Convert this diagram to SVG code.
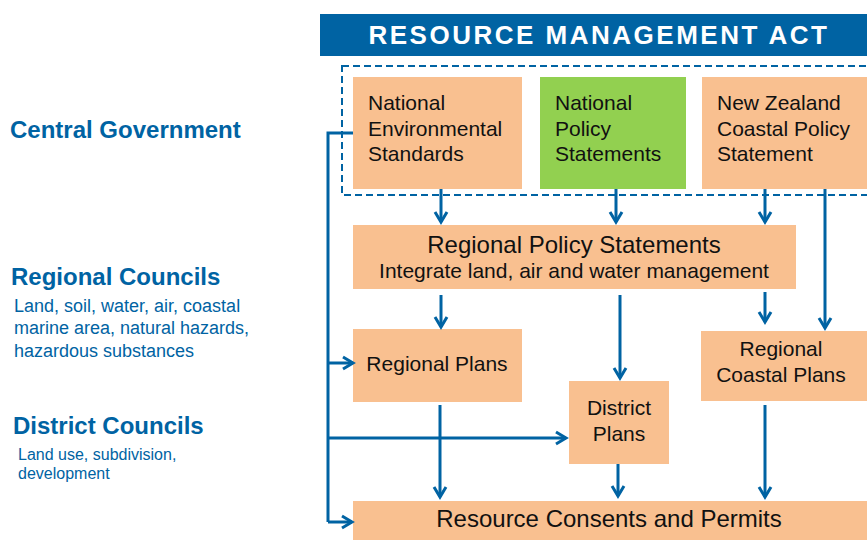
<svg xmlns="http://www.w3.org/2000/svg" width="867" height="540" viewBox="0 0 867 540">
<style>
.box{fill:#F9C090}
.green{fill:#92D050}
.t{font-family:"Liberation Sans",Arial,sans-serif;fill:#111;font-size:21px}
.big{font-size:24px}
.lbl{font-family:"Liberation Sans",Arial,sans-serif;fill:#0063A3;font-weight:bold;font-size:24px}
.sub{font-family:"Liberation Sans",Arial,sans-serif;fill:#0063A3;font-size:18px}
.sub2{font-family:"Liberation Sans",Arial,sans-serif;fill:#0063A3;font-size:16px}
.c{fill:none;stroke:#0063A3;stroke-width:3}
.arr{marker-end:url(#ah)}
</style>
<defs>
<marker id="ah" markerUnits="userSpaceOnUse" markerWidth="16" markerHeight="16" viewBox="-12 -8 14 16" refX="0" refY="0" orient="auto">
<path d="M-10,-6 L0,0 L-10,6" fill="none" stroke="#0063A3" stroke-width="3"/>
</marker>
</defs>
<rect width="867" height="540" fill="#fff"/>

<g id="header">
<rect x="320" y="14" width="547" height="42" fill="#0063A3"/>
<text x="599" y="44" text-anchor="middle" font-family="Liberation Sans,Arial,sans-serif" font-weight="bold" font-size="26" letter-spacing="2.5" fill="#fff">RESOURCE MANAGEMENT ACT</text>
</g>

<g id="labels">
<text class="lbl" x="10" y="138">Central Government</text>
<text class="lbl" x="11" y="285">Regional Councils</text>
<text class="sub" x="14" y="312">Land, soil, water, air, coastal</text>
<text class="sub" x="14" y="334">marine area, natural hazards,</text>
<text class="sub" x="14" y="357">hazardous substances</text>
<text class="lbl" x="13" y="434">District Councils</text>
<text class="sub2" x="18" y="460">Land use, subdivision,</text>
<text class="sub2" x="18" y="479">development</text>
</g>

<g id="central-boundary">
<rect x="342" y="66" width="600" height="129" fill="none" stroke="#0063A3" stroke-width="2" stroke-dasharray="7 4"/>
</g>

<g id="nes">
<rect class="box" x="353" y="77" width="169" height="112"/>
<text class="t" x="368" y="110">National</text>
<text class="t" x="368" y="136">Environmental</text>
<text class="t" x="368" y="161">Standards</text>
</g>

<g id="nps">
<rect class="green" x="540" y="77" width="146" height="112"/>
<text class="t" x="555" y="110">National</text>
<text class="t" x="555" y="136">Policy</text>
<text class="t" x="555" y="161">Statements</text>
</g>

<g id="nzcps">
<rect class="box" x="702" y="77" width="170" height="112"/>
<text class="t" x="717" y="110">New Zealand</text>
<text class="t" x="717" y="136">Coastal Policy</text>
<text class="t" x="717" y="161">Statement</text>
</g>

<g id="rps">
<rect class="box" x="353" y="225" width="443" height="64"/>
<text class="t big" x="574" y="253" text-anchor="middle">Regional Policy Statements</text>
<text class="t" x="574" y="278" text-anchor="middle">Integrate land, air and water management</text>
</g>

<g id="regional-plans">
<rect class="box" x="353" y="329" width="169" height="73"/>
<text class="t" x="437" y="371" text-anchor="middle">Regional Plans</text>
</g>

<g id="district-plans">
<rect class="box" x="569" y="381" width="100" height="83"/>
<text class="t" x="619" y="415" text-anchor="middle">District</text>
<text class="t" x="619" y="441" text-anchor="middle">Plans</text>
</g>

<g id="regional-coastal-plans">
<rect class="box" x="701" y="331" width="170" height="70"/>
<text class="t" x="781" y="356" text-anchor="middle">Regional</text>
<text class="t" x="781" y="382" text-anchor="middle">Coastal Plans</text>
</g>

<g id="consents">
<rect class="box" x="353" y="501" width="520" height="45"/>
<text class="t big" x="609" y="527" text-anchor="middle">Resource Consents and Permits</text>
</g>

<g id="connectors">
<path class="c arr" d="M441,189 V222"/>
<path class="c arr" d="M616,189 V222"/>
<path class="c arr" d="M765,189 V222"/>
<path class="c arr" d="M825,189 V328"/>
<path class="c arr" d="M441,295 V327"/>
<path class="c arr" d="M620,295 V378"/>
<path class="c arr" d="M765,292 V322"/>
<path class="c arr" d="M440,405 V497"/>
<path class="c arr" d="M618,464 V496"/>
<path class="c arr" d="M765,405 V497"/>
<path class="c" d="M353,133 H328 V522"/>
<path class="c arr" d="M328,363 H353"/>
<path class="c arr" d="M328,438 H566"/>
<path class="c arr" d="M328,522 H352"/>
</g>
</svg>
